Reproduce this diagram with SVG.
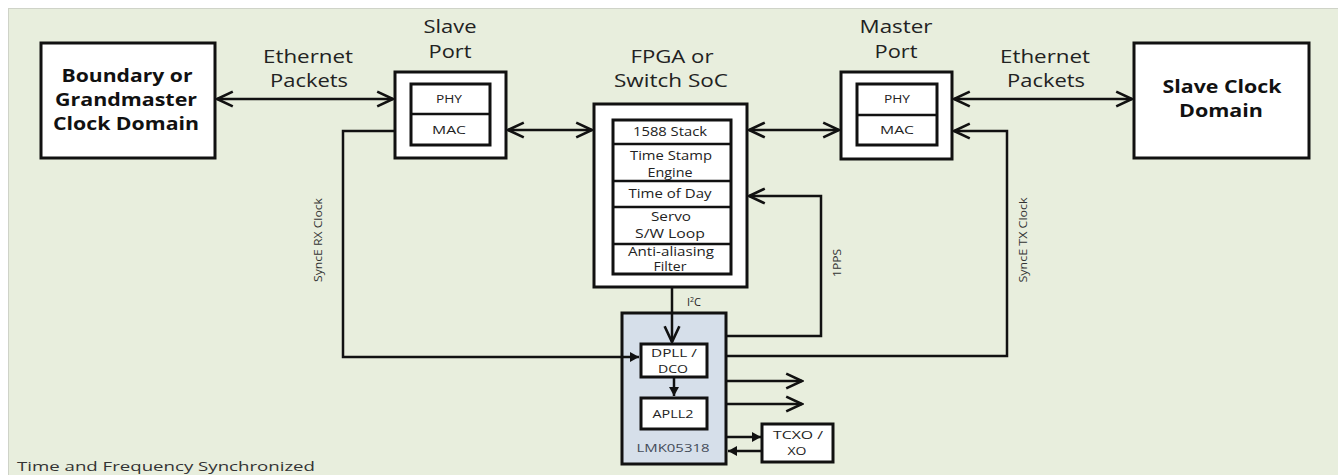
<svg xmlns="http://www.w3.org/2000/svg" width="1338" height="475" viewBox="0 0 1338 475">
<style>
text{font-family:"Open Sans","Liberation Sans",sans-serif;fill:#222;}
.big{font-size:18px;text-anchor:middle;}
.bold{font-size:18px;font-weight:bold;text-anchor:middle;fill:#111;}
.sm{font-size:11px;text-anchor:middle;}
.md{font-size:12px;text-anchor:middle;}
.rot{font-size:11px;text-anchor:middle;fill:#333;}
.box{fill:#fff;stroke:#111;stroke-width:3;}
.ln{fill:none;stroke:#111;stroke-width:2.5;}
</style>
<defs>
<marker id="chev" markerUnits="userSpaceOnUse" markerWidth="20" markerHeight="20" viewBox="-17 -9 19 18" refX="0" refY="0" orient="auto-start-reverse">
<path d="M-15,-7 L0,0 L-15,7" fill="none" stroke="#111" stroke-width="2.5"/>
</marker>
<marker id="tri" markerUnits="userSpaceOnUse" markerWidth="12" markerHeight="12" viewBox="-10 -6 11 12" refX="0" refY="0" orient="auto-start-reverse">
<path d="M-9,-5 L0,0 L-9,5 Z" fill="#111"/>
</marker>
</defs>
<rect x="0" y="0" width="1338" height="475" fill="#fff"/>
<rect x="8.5" y="8.5" width="1340" height="470" fill="#E8EEDD" stroke="#cfd3c8" stroke-width="1"/>

<g id="gm">
<rect class="box" x="41" y="43" width="174" height="115"/>
<text class="bold" x="127" y="82" textLength="131" lengthAdjust="spacingAndGlyphs">Boundary or</text>
<text class="bold" x="126" y="106" textLength="142" lengthAdjust="spacingAndGlyphs">Grandmaster</text>
<text class="bold" x="126" y="130" textLength="146" lengthAdjust="spacingAndGlyphs">Clock Domain</text>
</g>

<g id="slave-port">
<text class="big" x="450" y="33" textLength="53" lengthAdjust="spacingAndGlyphs">Slave</text>
<text class="big" x="450" y="58" textLength="43" lengthAdjust="spacingAndGlyphs">Port</text>
<rect class="box" x="395" y="72" width="111" height="86"/>
<rect class="box" x="411" y="84" width="79" height="61"/>
<line class="ln" x1="411" y1="114" x2="490" y2="114" stroke-width="3"/>
<text class="sm" x="449" y="103" textLength="26" lengthAdjust="spacingAndGlyphs">PHY</text>
<text class="sm" x="449" y="134" textLength="34" lengthAdjust="spacingAndGlyphs">MAC</text>
</g>

<g id="fpga">
<text class="big" x="672" y="63" textLength="83" lengthAdjust="spacingAndGlyphs">FPGA or</text>
<text class="big" x="671" y="87" textLength="114" lengthAdjust="spacingAndGlyphs">Switch SoC</text>
<rect class="box" x="594" y="104" width="153" height="183"/>
<rect class="box" x="613" y="120" width="118" height="154"/>
<line class="ln" x1="613" y1="144" x2="731" y2="144" stroke-width="3"/>
<line class="ln" x1="613" y1="181" x2="731" y2="181" stroke-width="3"/>
<line class="ln" x1="613" y1="207" x2="731" y2="207" stroke-width="3"/>
<line class="ln" x1="613" y1="244" x2="731" y2="244" stroke-width="3"/>
<text class="md" x="670" y="136" textLength="74" lengthAdjust="spacingAndGlyphs">1588 Stack</text>
<text class="md" x="671" y="160" textLength="82" lengthAdjust="spacingAndGlyphs">Time Stamp</text>
<text class="md" x="670" y="177" textLength="45" lengthAdjust="spacingAndGlyphs">Engine</text>
<text class="md" x="670" y="198" textLength="83" lengthAdjust="spacingAndGlyphs">Time of Day</text>
<text class="md" x="671" y="221" textLength="40" lengthAdjust="spacingAndGlyphs">Servo</text>
<text class="md" x="670" y="238" textLength="70" lengthAdjust="spacingAndGlyphs">S/W Loop</text>
<text class="md" x="671" y="256" textLength="86" lengthAdjust="spacingAndGlyphs">Anti-aliasing</text>
<text class="md" x="670" y="271" textLength="33" lengthAdjust="spacingAndGlyphs">Filter</text>
</g>

<g id="master-port">
<text class="big" x="896" y="33" textLength="73" lengthAdjust="spacingAndGlyphs">Master</text>
<text class="big" x="896" y="58" textLength="43" lengthAdjust="spacingAndGlyphs">Port</text>
<rect class="box" x="841" y="72" width="111" height="87"/>
<rect class="box" x="857" y="84" width="80" height="61"/>
<line class="ln" x1="857" y1="115" x2="937" y2="115" stroke-width="3"/>
<text class="sm" x="897" y="103" textLength="26" lengthAdjust="spacingAndGlyphs">PHY</text>
<text class="sm" x="897" y="134" textLength="34" lengthAdjust="spacingAndGlyphs">MAC</text>
</g>

<g id="slave-clock">
<rect class="box" x="1134" y="43" width="175" height="115"/>
<text class="bold" x="1222" y="93" textLength="119" lengthAdjust="spacingAndGlyphs">Slave Clock</text>
<text class="bold" x="1221" y="117" textLength="84" lengthAdjust="spacingAndGlyphs">Domain</text>
</g>

<g id="lmk">
<rect x="622" y="313" width="104" height="151" fill="#D6DFEA" stroke="#111" stroke-width="3"/>
<text class="sm" x="673" y="452" textLength="73" lengthAdjust="spacingAndGlyphs" style="fill:#444b58">LMK05318</text>
</g>

<g id="dpll">
<rect class="box" x="641" y="344" width="66" height="33"/>
<text class="sm" x="674" y="357" textLength="46" lengthAdjust="spacingAndGlyphs">DPLL /</text>
<text class="sm" x="673" y="373" textLength="30" lengthAdjust="spacingAndGlyphs">DCO</text>
</g>

<g id="apll2">
<rect class="box" x="641" y="398" width="66" height="31"/>
<text class="sm" x="673" y="418" textLength="41" lengthAdjust="spacingAndGlyphs">APLL2</text>
</g>

<g id="tcxo">
<rect class="box" x="762" y="424" width="71" height="38"/>
<text class="sm" x="798" y="439" textLength="50" lengthAdjust="spacingAndGlyphs">TCXO /</text>
<text class="sm" x="797" y="455" textLength="19" lengthAdjust="spacingAndGlyphs">XO</text>
</g>

<g id="connectors">
<line class="ln" x1="217" y1="99" x2="393" y2="99" marker-start="url(#chev)" marker-end="url(#chev)"/>
<line class="ln" x1="508" y1="130" x2="592" y2="130" marker-start="url(#chev)" marker-end="url(#chev)"/>
<line class="ln" x1="749" y1="130" x2="839" y2="130" marker-start="url(#chev)" marker-end="url(#chev)"/>
<line class="ln" x1="954" y1="99" x2="1132" y2="99" marker-start="url(#chev)" marker-end="url(#chev)"/>
<polyline class="ln" points="394,131 343,131 343,357 639,357" marker-end="url(#tri)"/>
<polyline class="ln" points="727,356 1007,356 1007,131 954,131" marker-end="url(#chev)"/>
<polyline class="ln" points="727,336 821,336 821,196 749,196" marker-end="url(#chev)"/>
<line class="ln" x1="672" y1="288" x2="672" y2="342" marker-end="url(#chev)"/>
<line class="ln" x1="674" y1="378" x2="674" y2="396" marker-end="url(#tri)"/>
<line class="ln" x1="727" y1="381" x2="802" y2="381" marker-end="url(#chev)"/>
<line class="ln" x1="727" y1="404" x2="802" y2="404" marker-end="url(#chev)"/>
<line class="ln" x1="727" y1="437" x2="761" y2="437" marker-end="url(#tri)"/>
<line class="ln" x1="761" y1="451" x2="728" y2="451" marker-end="url(#tri)"/>
<text class="big" x="308" y="63" textLength="90" lengthAdjust="spacingAndGlyphs">Ethernet</text>
<text class="big" x="309" y="87" textLength="78" lengthAdjust="spacingAndGlyphs">Packets</text>
<text class="big" x="1045" y="63" textLength="90" lengthAdjust="spacingAndGlyphs">Ethernet</text>
<text class="big" x="1046" y="87" textLength="78" lengthAdjust="spacingAndGlyphs">Packets</text>
<text class="rot" transform="translate(322,240) rotate(-90)" textLength="84" lengthAdjust="spacingAndGlyphs">SyncE RX Clock</text>
<text class="rot" transform="translate(1027,240) rotate(-90)" textLength="85" lengthAdjust="spacingAndGlyphs">SyncE TX Clock</text>
<text class="rot" transform="translate(841,263) rotate(-90)" textLength="28" lengthAdjust="spacingAndGlyphs">1PPS</text>
<text class="sm" x="694" y="306">I<tspan font-size="7" dy="-4">2</tspan><tspan dy="4">C</tspan></text>
</g>

<text x="17" y="471" font-size="13" textLength="298" lengthAdjust="spacingAndGlyphs" style="fill:#333">Time and Frequency Synchronized</text>
</svg>
